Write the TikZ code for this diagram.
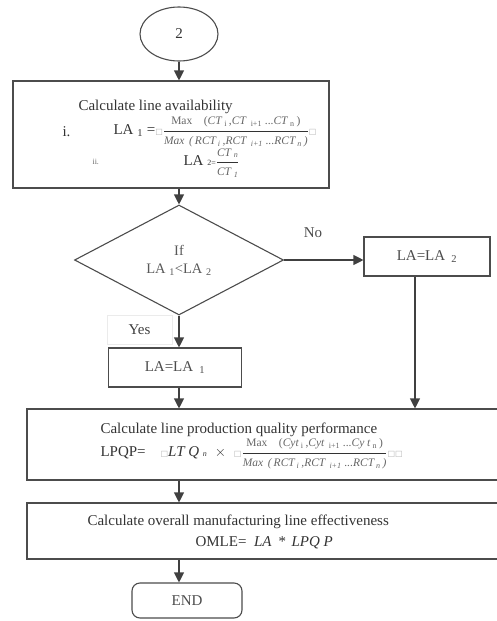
\documentclass[tikz,border=0pt]{standalone}
\usepackage{fontspec}
\setmainfont{Liberation Serif}
\newfontfamily\dejavu{DejaVu Sans}
\usetikzlibrary{shapes.geometric, arrows.meta, positioning}

\newcommand{\missing}{{\color{black!30}\dejavu\fontsize{8}{8}\selectfont □}}
\newcommand{\wfrac}[2]{$\displaystyle\frac{\mbox{#1}}{\mbox{#2}}$}
\newcommand{\smalltext}{\fontsize{8}{9}\selectfont}
\newcommand{\fractext}{\fontsize{11.5}{12}\selectfont}

\begin{document}
\begin{tikzpicture}[
    x=1pt, y=-1pt,
    line width=1.1pt, draw=black!70,
    box/.style={rectangle, draw=black!70, inner sep=0pt, font=\fontsize{15}{17}\selectfont, text=black!70},
    txt/.style={inner sep=0pt, font=\fontsize{15}{17}\selectfont, text=black!80},
    arrow/.style={-{Triangle[length=10pt,width=10pt]}, line width=1.1pt, draw=black!75}
]
\useasboundingbox (0,0) rectangle (497,621);

\node[ellipse, draw=black!70, minimum width=78pt, minimum height=54pt, inner sep=0pt,
      font=\fontsize{15}{17}\selectfont, text=black!80] (start) at (179,34) {2};

% line availability
\node[box, minimum width=316pt, minimum height=107pt] (calcla) at (171,134.5) {};
\node[txt, anchor=west] (calctitle) at (78,107) {Calculate line availability};
\node[txt, anchor=west] (rowi) at (62,132) {i.};
\node[txt, anchor=west] (laone) at (113,132) {LA \textsubscript{1} =\missing\wfrac{\color{black!60}\fractext Max\quad (\textit{CT}\,\textsubscript{i}\,,\textit{CT}\,\textsubscript{\;i+1} ...\textit{CT}\,\textsubscript{n}\,)}{\color{black!60}\fractext\itshape Max \,(\,RCT\,\textsubscript{i}\,,RCT\,\textsubscript{\;i+1} ...RCT\,\textsubscript{n}\,)}\missing};
\node[txt, anchor=west, font=\smalltext, text=black!60] (rowii) at (92,162) {ii.};
\node[txt, anchor=west] (latwo) at (183,163) {LA {\smalltext 2=}\wfrac{\color{black!60}\fractext\itshape CT \textsubscript{n}}{\color{black!60}\fractext\itshape CT \textsubscript{1}}};

% decision
\node[diamond, draw=black!70, minimum width=209pt, minimum height=110pt, inner sep=0pt,
      align=center, font=\fontsize{14.5}{18}\selectfont, text=black!65] (cond) at (179,260)
      {If\\LA \textsubscript{1}<LA \textsubscript{2}};
\node[txt, text=black!70] (nolabel) at (313,233) {No};

\node[box, minimum width=126pt, minimum height=39pt] (latwobox) at (427,256.5) {LA=LA \,\textsubscript{2}};

\node[rectangle, draw=black!8, line width=0.6pt, minimum width=65pt, minimum height=29pt,
      font=\fontsize{15}{17}\selectfont, text=black!75] (yeslabel) at (139.5,329.5) {Yes};

\node[box, minimum width=133pt, minimum height=39pt] (laonebox) at (175,367.5) {LA=LA \,\textsubscript{1}};

% quality performance
\node[box, minimum width=478pt, minimum height=71pt] (lpqp) at (266,444.5) {};
\node[txt, anchor=west] (lpqptitle) at (100,430) {Calculate line production quality performance};
\node[txt, anchor=west] (lpqpeq) at (100,454) {LPQP=\quad\missing\textit{LT Q} {\smalltext\textit{n}}\; $\times$\; \missing\wfrac{\color{black!60}\fractext Max\quad (\textit{Cyt}\,\textsubscript{i}\,,\textit{Cyt}\,\textsubscript{\;i+1} ...\textit{Cy t}\,\textsubscript{n}\,)}{\color{black!60}\fractext\itshape Max \,(\,RCT\,\textsubscript{i}\,,RCT\,\textsubscript{\;i+1} ...RCT\,\textsubscript{n}\,)}\missing\missing};

% effectiveness
\node[box, minimum width=478pt, minimum height=56pt] (omle) at (266,531) {};
\node[txt, anchor=west] (omletitle) at (87,522) {Calculate overall manufacturing line effectiveness};
\node[txt, anchor=west] (omleeq) at (195,543) {OMLE=\enspace\textit{LA \,* \,LPQ P}};

\node[box, rounded corners=8pt, minimum width=110pt, minimum height=35pt] (finish) at (187,600.5) {END};

\draw[arrow] (start) -- (calcla.north -| start);
\draw[arrow] (calcla.south -| start) -- (cond.north);
\draw[arrow] (cond.east) -- (cond.east -| latwobox.west);
\draw[arrow] (cond.south) -- (laonebox.north -| cond.south);
\draw[arrow] (laonebox.south -| start) -- (lpqp.north -| start);
\draw[arrow] ([xshift=-12pt]latwobox.south) -- ([xshift=-12pt]latwobox.south |- lpqp.north);
\draw[arrow] (lpqp.south -| start) -- (omle.north -| start);
\draw[arrow] (omle.south -| start) -- (finish.north -| start);
\end{tikzpicture}
\end{document}
